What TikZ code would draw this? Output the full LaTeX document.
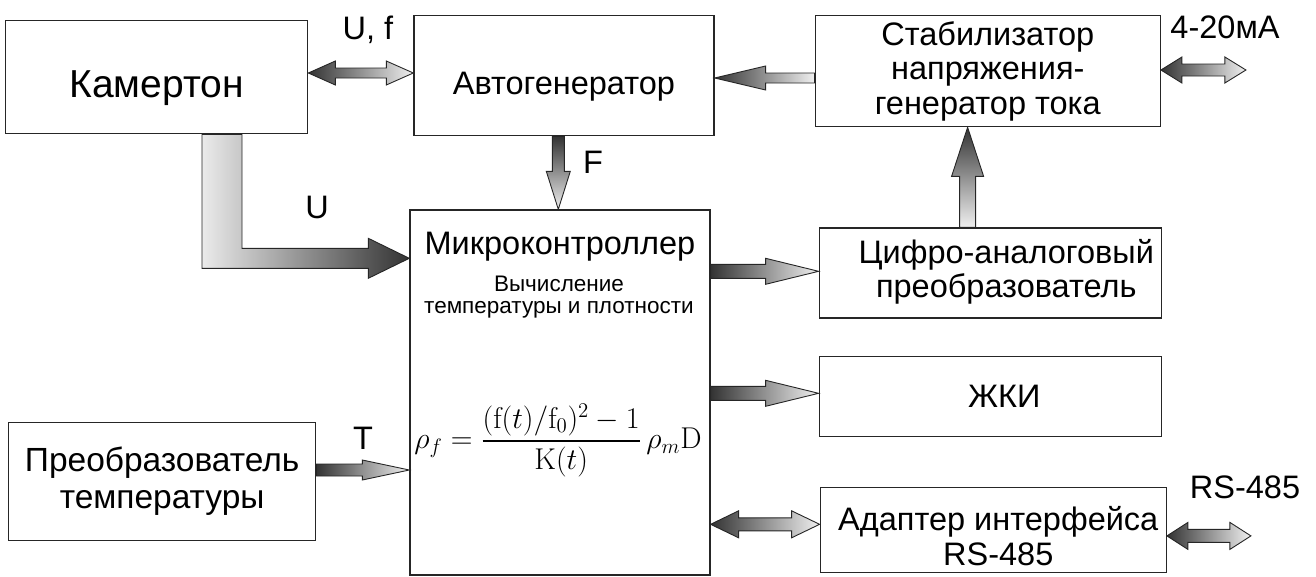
\documentclass[tikz,border=0pt]{standalone}
\usepackage{amsmath}
\usepackage[no-math]{fontspec}
\setmainfont{Liberation Sans}
\usetikzlibrary{positioning,calc}

\tikzset{
  blk/.style={draw=black!85, line width=1.3pt, align=center, inner sep=0pt,
              font=\fontsize{32.5}{34.5}\selectfont},
  txt/.style={inner sep=0pt, align=center, font=\fontsize{32.5}{34.5}\selectfont},
  fat/.style={draw=black!85, line width=0.9pt, left color=black!80, right color=black!6},
  fatU/.style={draw=black!85, line width=0.9pt, left color=black!8, right color=black!80},
  fatV/.style={draw=black!85, line width=0.9pt, top color=black!80, bottom color=black!6},
}

% #1 style, #2 tail, #3 tip, #4 half shaft, #5 half head, #6 head length
\newcommand\fatarrow[6]{\path[#1] let \p1=(#2), \p2=(#3), \n1={\x2-(#6)} in
  (\x1,{\y1+#4}) -- (\n1,{\y1+#4}) -- (\n1,{\y1+#5}) -- (\x2,\y1)
  -- (\n1,{\y1-#5}) -- (\n1,{\y1-#4}) -- (\x1,{\y1-#4}) -- cycle;}
\newcommand\dblarrow[6]{\path[#1] let \p1=(#2), \p2=(#3), \n1={\x1+#6}, \n2={\x2-#6} in
  (\x1,\y1) -- (\n1,{\y1+#5}) -- (\n1,{\y1+#4}) -- (\n2,{\y1+#4})
  -- (\n2,{\y1+#5}) -- (\x2,\y1) -- (\n2,{\y1-#5}) -- (\n2,{\y1-#4})
  -- (\n1,{\y1-#4}) -- (\n1,{\y1-#5}) -- cycle;}
\newcommand\vfatarrow[6]{\path[#1] let \p1=(#2), \p2=(#3), \n1={\y2-(#6)} in
  ({\x1+#4},\y1) -- ({\x1+#4},\n1) -- ({\x1+#5},\n1) -- (\x1,\y2)
  -- ({\x1-#5},\n1) -- ({\x1-#4},\n1) -- ({\x1-#4},\y1) -- cycle;}

\begin{document}
\begin{tikzpicture}[x=1pt, y=1pt]
\useasboundingbox (0,0) rectangle (1316,-576);

% blocks
\node[blk, minimum width=302pt, minimum height=113pt, anchor=north west,
      font=\fontsize{39}{42}\selectfont, text height=49pt, text depth=8pt]
      (kam) at (5,-20) {Камертон};
\node[blk, minimum width=300pt, minimum height=120pt, right=105pt of kam.north east,
      anchor=north west, yshift=5pt, text height=46pt, text depth=8pt] (avt) {Автогенератор};
\node[blk, minimum width=345pt, minimum height=111pt, right=100pt of avt.north east,
      anchor=north west] (stab) {Стабилизатор\\напряжения-\\генератор тока};
\node[blk, minimum width=300pt, minimum height=365pt, below=73pt of avt.south west,
      anchor=north west, xshift=-4pt] (mc) {};
\node[blk, minimum width=342pt, minimum height=90pt, below right=18pt and 108pt of mc.north east,
      anchor=north west] (cap) {};
\node[blk, minimum width=342pt, minimum height=80pt, below=37pt of cap.south west,
      anchor=north west] (lcd) {};
\node[blk, minimum width=346pt, minimum height=85pt, below=50pt of lcd.south west,
      anchor=north west, xshift=1pt] (adp) {};
\node[blk, minimum width=307pt, minimum height=118pt, anchor=north west,
      font=\fontsize{33.5}{37}\selectfont] (prb) at (8,-422) {Преобразователь\\температуры};

% texts
\node[txt] (capt) at ($(cap.center)+(16,1)$) {Цифро-аналоговый\\преобразователь};
\node[txt] (lcdt) at ($(lcd.center)+(14,0)$) {ЖКИ};
\node[txt] (adpt) at ($(adp.center)+(5,-6)$) {Адаптер интерфейса\\RS-485};
\node[txt] (mct) at ($(mc.north)+(0,-37)$) {Микроконтроллер};
\node[txt, font=\fontsize{22.5}{22.5}\selectfont] (mcs) at ($(mc.north)+(-1,-88)$)
      {Вычисление\\температуры и плотности};
\node[inner sep=0pt, font=\fontsize{20.74}{25}\selectfont, scale=1.45, transform shape]
      (mcf) at ($(mc.north)+(-2,-231)$)
      {$\rho_f=\dfrac{(\mathrm{f}(t)/\mathrm{f}_0)^2-1}{\mathrm{K}(t)}\,\rho_m\mathrm{D}$};
\node[txt] (uf) at (368,-30) {U, f};
\node[txt] (lf) at (593,-162) {F};
\node[txt] (lu) at (317,-207) {U};
\node[txt] (lt) at (363,-438) {T};
\node[txt] (l420) at (1225,-27) {4-20мА};
\node[txt] (lrs) at (1245,-487) {RS-485};

\coordinate (out1) at ($(stab.east)+(85,0)$);
\coordinate (out2) at ($(adp.east)+(84,0)$);

% arrows
\dblarrow{fat}{$(kam.north east)+(0,-53)$}{avt.west}{5pt}{12pt}{27pt}
\fatarrow{fat}{$(stab.north west)+(0,-63)$}{avt.east}{5pt}{12pt}{-51pt}
\dblarrow{fat}{$(stab.north east)+(0,-55)$}{out1}{6pt}{13pt}{21pt}
\vfatarrow{fatV}{$(avt.south west)+(145,0)$}{mc.north}{6pt}{12pt}{-38pt}
\vfatarrow{fatV}{$(cap.north west)+(149,0)$}{stab.south}{8pt}{16pt}{49pt}
\fatarrow{fat}{$(mc.north east)+(0,-62)$}{cap.west}{7pt}{13pt}{53pt}
\fatarrow{fat}{$(mc.north east)+(0,-184)$}{lcd.west}{7pt}{13pt}{53pt}
\dblarrow{fat}{$(mc.north east)+(0,-315)$}{adp.west}{6.5pt}{13.5pt}{28pt}
\dblarrow{fat}{$(adp.north east)+(0,-49)$}{out2}{6.5pt}{13.5pt}{21pt}
\fatarrow{fat}{$(prb.north east)+(0,-48)$}{mc.west}{6pt}{10pt}{47pt}
\path[fatU] let \p1=($(kam.south west)+(197,0)$), \p2=($(mc.north west)+(0,-49)$) in
  (\x1,\y1) -- ({\x1+40pt},\y1) -- ({\x1+40pt},{\y2+10pt}) -- ({\x2-41pt},{\y2+10pt})
  -- ({\x2-41pt},{\y2+20pt}) -- (\x2,\y2) -- ({\x2-41pt},{\y2-20pt}) -- ({\x2-41pt},{\y2-10pt})
  -- (\x1,{\y2-10pt}) -- cycle;
\end{tikzpicture}
\end{document}
